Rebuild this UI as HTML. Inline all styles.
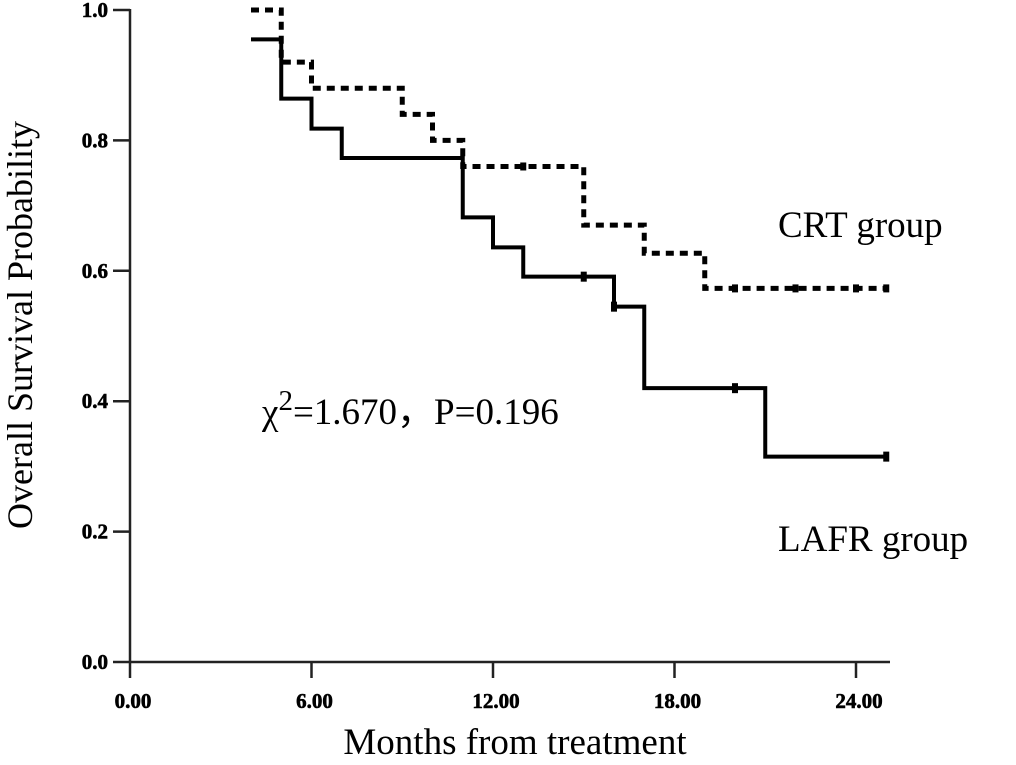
<!DOCTYPE html>
<html><head><meta charset="utf-8"><style>
body{margin:0;background:#fff;width:1016px;height:760px;overflow:hidden}
svg text{font-family:"Liberation Serif",serif}
</style></head><body>
<svg id="c" width="1016" height="760"></svg>
<script>
const xTicks=[0,6,12,18,24];
const xTickLabels=["0.00","6.00","12.00","18.00","24.00"];
const yTicks=[0,0.2,0.4,0.6,0.8,1.0];
const yTickLabels=["0.0","0.2","0.4","0.6","0.8","1.0"];
const crtTimes=[4,5,6,9,10,11,15,17,19,25];
const crtSurv=[1.0,0.92,0.88,0.84,0.80,0.76,0.67,0.627,0.573,0.573];
const crtCensor=[13,20,22,24,25];
const lafrTimes=[4,5,6,7,11,12,13,16,17,21,25];
const lafrSurv=[0.955,0.864,0.818,0.773,0.682,0.636,0.591,0.545,0.42,0.315,0.315];
const lafrCensor=[15,16,20,25];
const NS="http://www.w3.org/2000/svg";
const svg=document.getElementById('c');
const X=m=>130+m*30.25, Y=v=>662-v*652;
function mk(t,a,p){const e=document.createElementNS(NS,t);for(const k in a)e.setAttribute(k,a[k]);(p||svg).appendChild(e);return e;}
let ax=mk('line',{x1:130,y1:662,x2:890,y2:662,stroke:'#222','stroke-width':2.5});


let ay=mk('line',{x1:130,y1:9,x2:130,y2:662,stroke:'#222','stroke-width':2.5});


xTicks.forEach((t,i)=>{
  mk('line',{x1:X(t),y1:662,x2:X(t),y2:678,stroke:'#222','stroke-width':2.5});
  const tx=mk('text',{x:X(t)+3,y:708,'text-anchor':'middle','font-size':21,'font-weight':'bold',stroke:'#000','stroke-width':0.6});
  tx.textContent=xTickLabels[i];
  
  
});
yTicks.forEach((t,i)=>{
  mk('line',{x1:113,y1:Y(t),x2:130,y2:Y(t),stroke:'#222','stroke-width':2.5});
  const tx=mk('text',{x:108,y:Y(t)+7,'text-anchor':'end','font-size':21,'font-weight':'bold',stroke:'#000','stroke-width':0.6});
  tx.textContent=yTickLabels[i];
  
  
});
function step(times,surv){
  let d=`M${X(times[0])},${Y(surv[0])}`;
  for(let i=1;i<times.length;i++){d+=` H${X(times[i])} V${Y(surv[i])}`;}
  return d;
}
function valAt(times,surv,t){let v=surv[0];for(let i=0;i<times.length;i++)if(times[i]<=t)v=surv[i];return v;}
const crt=mk('path',{d:step(crtTimes,crtSurv),fill:'none',stroke:'#000','stroke-width':5,'stroke-dasharray':'8,6'});


const lafr=mk('path',{d:step(lafrTimes,lafrSurv),fill:'none',stroke:'#000','stroke-width':4});


crtCensor.forEach(t=>{const c=mk('rect',{x:X(t)-3,y:Y(valAt(crtTimes,crtSurv,t))-4,width:6,height:8,fill:'#000'});

});
lafrCensor.forEach(t=>{const c=mk('rect',{x:X(t)-3,y:Y(valAt(lafrTimes,lafrSurv,t))-5,width:6,height:10,fill:'#000'});

});
function label(txt,x,y,size,name,extra){const t=mk('text',Object.assign({x:x,y:y,'font-size':size},extra||{}));t.textContent=txt;

return t;}
label('CRT group',778,237,37,'crt-label');
label('LAFR group',778,551,37,'lafr-label');
label('Months from treatment',515,754,37,'x-axis-title',{'text-anchor':'middle'});
label('Overall Survival Probability',0,0,36,'y-axis-title',{'text-anchor':'middle',transform:'translate(32,325) rotate(-90)'});
const st=mk('text',{x:262,y:424,'font-size':37});


st.innerHTML='χ<tspan dy="-14" font-size="29">2</tspan><tspan dy="14">=1.670，P=0.196</tspan>';
</script>
</body></html>
